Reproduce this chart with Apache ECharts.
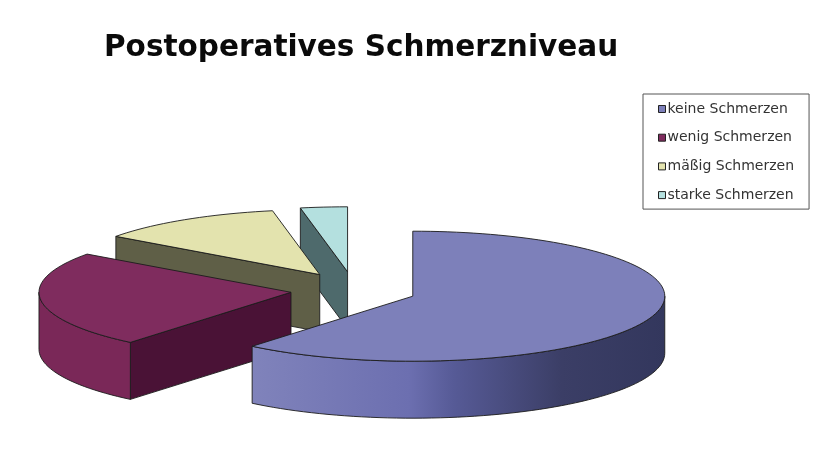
<!DOCTYPE html>
<html><head><meta charset="utf-8">
<style>html,body{margin:0;padding:0;background:#fff}#c{width:828px;height:450px}</style>
<script src="https://cdn.jsdelivr.net/npm/echarts@6/dist/echarts.min.js"></script>
</head><body><div id="c"></div>
<script>
const titleText = "Postoperatives Schmerzniveau";
const categories = ["keine Schmerzen", "wenig Schmerzen", "mäßig Schmerzen", "starke Schmerzen"];
const values = [61, 24, 12, 3];
const topColors = ["#7d80ba", "#7f2c5e", "#e3e3ae", "#b4e0df"];
const wallColors = ["#3b3e66", "#4a1236", "#5f5f47", "#4e6a6c"];
const rimColors = ["#6c6fb0", "#7a2858", "#5f5f47", "#4e6a6c"];

const geo = {cx: 353.5, cy: 290, rx: 252, ry: 65, depth: 57, explode: 63, explodeY: 0.29};
const total = values.reduce((a, b) => a + b, 0);
const D = Math.PI / 180;

function renderSlice(index) {
  return function (params, api) {
    const v = api.value(0);
    let before = 0;
    for (let i = 0; i < index; i++) before += values[i];
    const t0 = before / total * 360, t1 = t0 + v / total * 360;
    const mid = (t0 + t1) / 2 * D;
    const cx = geo.cx + geo.explode * Math.sin(mid);
    const cy = geo.cy - geo.explode * geo.explodeY * Math.cos(mid);
    const pt = (t, dz) => [cx + geo.rx * Math.sin(t * D), cy - geo.ry * Math.cos(t * D) + (dz || 0)];
    const arc = (a, b, dz) => {
      const out = [], n = Math.max(2, Math.ceil(Math.abs(b - a) / 2));
      for (let i = 0; i <= n; i++) out.push(pt(a + (b - a) * i / n, dz));
      return out;
    };
    const line = {stroke: "#1c1c1c", lineWidth: 0.9};
    const children = [];
    const wall = t => ({type: "polygon",
      shape: {points: [[cx, cy], pt(t), pt(t, geo.depth), [cx, cy + geo.depth]]},
      style: Object.assign({fill: wallColors[index]}, line)});
    if (Math.sin(t0 * D) < -0.001) children.push(wall(t0));
    if (Math.sin(t1 * D) > 0.001) children.push(wall(t1));
    const a = Math.max(t0, 90), b = Math.min(t1, 270);
    if (b > a) {
      const fill = index === 0
        ? new echarts.graphic.LinearGradient(0, 0, 1, 0, [
            {offset: 0, color: "#8083bb"}, {offset: 0.38, color: "#6c6fb0"},
            {offset: 0.49, color: "#565a96"}, {offset: 0.75, color: "#3b3e66"},
            {offset: 1, color: "#33375d"}])
        : rimColors[index];
      children.push({type: "polygon",
        shape: {points: arc(a, b, 0).concat(arc(b, a, geo.depth))},
        style: Object.assign({fill}, line)});
    }
    children.push({type: "polygon",
      shape: {points: [[cx, cy]].concat(arc(t0, t1, 0))},
      style: Object.assign({fill: topColors[index]}, line)});
    return {type: "group", children};
  };
}

const series = categories.map((name, i) => ({
  type: "custom", name, coordinateSystem: "none",
  data: [[values[i]]], renderItem: renderSlice(i), silent: true,
  itemStyle: {color: topColors[i]}
})).reverse();

const chart = echarts.init(document.getElementById("c"), null, {renderer: "canvas"});
chart.setOption({
  animation: false,
  backgroundColor: "#ffffff",
  title: {text: titleText, left: 99, top: 28,
    textStyle: {fontFamily: "DejaVu Sans", fontWeight: "bold", fontSize: 29.5, color: "#0a0a0a"}},
  legend: {data: categories, orient: "vertical", left: 643, top: 94, selectedMode: false,
    icon: "rect", itemWidth: 7, itemHeight: 7, itemGap: 14.7,
    padding: [8, 15, 7, 15], borderColor: "#555", borderWidth: 1, backgroundColor: "#fff",
    itemStyle: {borderColor: "#222", borderWidth: 1},
    textStyle: {fontFamily: "DejaVu Sans", fontSize: 14, color: "#333", padding: [0, 0, 0, -3]}},
  series
});
</script></body></html>
